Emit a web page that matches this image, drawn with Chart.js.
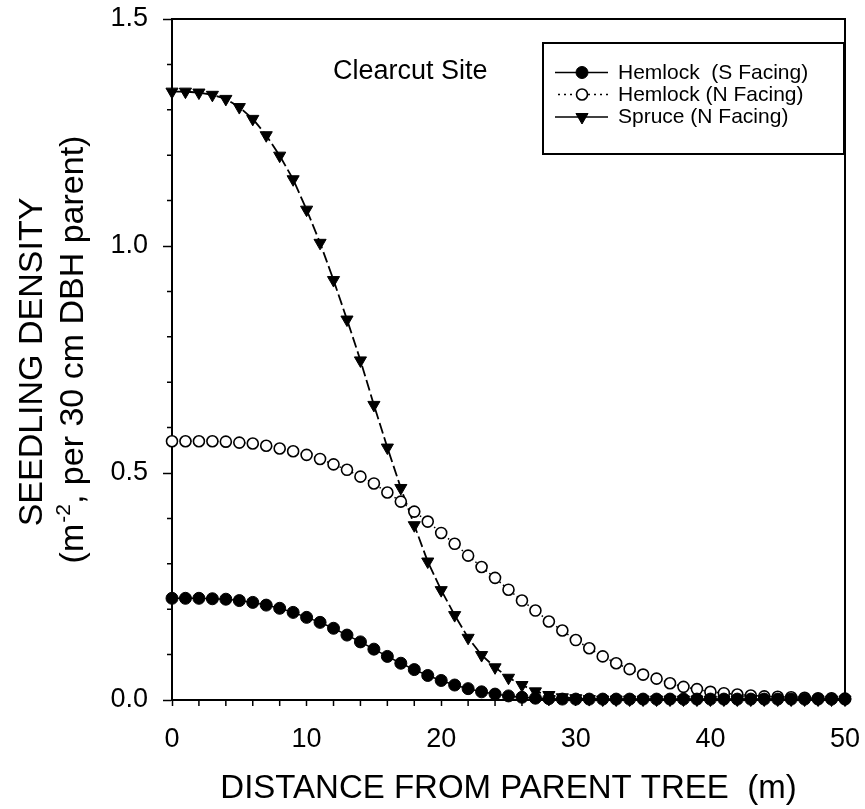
<!DOCTYPE html>
<html>
<head>
<meta charset="utf-8">
<script src="https://cdn.jsdelivr.net/npm/chart.js@4.4.1/dist/chart.umd.min.js"></script>
<style>
    html, body { margin: 0; padding: 0; background: #fff; }
    #wrap { width: 865px; height: 809px; }
</style>
</head>
<body>
<div id="wrap"><canvas id="seedlingChart" width="865" height="809"></canvas></div>
<script>
// distance from parent tree (m), one point per metre
const distance = [0, 1, 2, 3, 4, 5, 6, 7, 8, 9, 10, 11, 12, 13, 14, 15, 16, 17, 18, 19, 20,
    21, 22, 23, 24, 25, 26, 27, 28, 29, 30, 31, 32, 33, 34, 35, 36, 37, 38, 39, 40,
    41, 42, 43, 44, 45, 46, 47, 48, 49, 50];

// seedling density
const hemlockS = [0.224, 0.224, 0.224, 0.223, 0.222, 0.219, 0.215, 0.209, 0.202, 0.193, 0.182,
    0.171, 0.158, 0.143, 0.128, 0.112, 0.096, 0.081, 0.067, 0.054, 0.043,
    0.033, 0.025, 0.018, 0.013, 0.009, 0.006, 0.004, 0.003, 0.002, 0.002,
    0.002, 0.002, 0.002, 0.002, 0.002, 0.002, 0.002, 0.002, 0.002, 0.002,
    0.002, 0.002, 0.002, 0.002, 0.002, 0.002, 0.002, 0.002, 0.002, 0.002];
const hemlockN = [0.570, 0.570, 0.570, 0.570, 0.569, 0.567, 0.565, 0.560, 0.554, 0.548, 0.540,
    0.531, 0.519, 0.507, 0.492, 0.477, 0.457, 0.437, 0.415, 0.393, 0.368,
    0.344, 0.318, 0.293, 0.269, 0.243, 0.219, 0.197, 0.173, 0.153, 0.132,
    0.114, 0.096, 0.081, 0.068, 0.056, 0.047, 0.037, 0.029, 0.024, 0.018,
    0.015, 0.012, 0.010, 0.008, 0.007, 0.006, 0.005, 0.004, 0.004, 0.003];
const spruceN = [1.340, 1.340, 1.338, 1.333, 1.324, 1.306, 1.280, 1.244, 1.199, 1.147, 1.080,
    1.007, 0.925, 0.838, 0.748, 0.650, 0.556, 0.467, 0.385, 0.305, 0.242,
    0.187, 0.137, 0.099, 0.072, 0.049, 0.033, 0.019, 0.011, 0.006, 0.004,
    0.002, 0.001, 0.001, 0.001, 0.001, 0.001, 0.001, 0.001, 0.001, 0.001,
    0.001, 0.001, 0.001, 0.001, 0.001, 0.001, 0.001, 0.001, 0.001, 0.001];

const seriesLabels = ['Hemlock  (S Facing)', 'Hemlock (N Facing)', 'Spruce (N Facing)'];
const xMajorTicks = [0, 10, 20, 30, 40, 50];
const xMinorTicks = [2, 4, 6, 8, 12, 14, 16, 18, 22, 24, 26, 28, 32, 34, 36, 38, 42, 44, 46, 48];
const yMajorTicks = [0, 0.5, 1.0, 1.5];
const yMinorTicks = [0.1, 0.2, 0.3, 0.4, 0.6, 0.7, 0.8, 0.9, 1.1, 1.2, 1.3, 1.4];
const siteLabel = 'Clearcut Site';
const xTitle = 'DISTANCE FROM PARENT TREE  (m)';
const yTitle = ['SEEDLING DENSITY', '(m', '-2', ', per 30 cm DBH parent)'];

const FONT = '"Liberation Sans", Arial, Helvetica, sans-serif';

function toPoints(values) {
    return distance.map((d, i) => ({ x: d, y: values[i] }));
}

function drawMarker(ctx, style, x, y, r, fill) {
    ctx.beginPath();
    if (style === 'triangle') {
        // pointing down
        ctx.moveTo(x, y + r);
        ctx.lineTo(x - r * 0.866, y - r / 2);
        ctx.lineTo(x + r * 0.866, y - r / 2);
        ctx.closePath();
    } else {
        ctx.arc(x, y, r, 0, Math.PI * 2);
    }
    ctx.fillStyle = fill;
    ctx.fill();
    ctx.stroke();
}

const decorations = {
    id: 'decorations',
    beforeDatasetsDraw(chart) {
        const { ctx, chartArea: a, scales } = chart;
        ctx.save();
        ctx.strokeStyle = '#000';
        // top and right frame
        ctx.lineWidth = 2;
        ctx.beginPath();
        ctx.moveTo(a.left, a.top);
        ctx.lineTo(a.right, a.top);
        ctx.lineTo(a.right, a.bottom);
        ctx.stroke();
        // minor ticks
        ctx.lineWidth = 1.5;
        ctx.beginPath();
        xMinorTicks.forEach(v => {
            const px = scales.x.getPixelForValue(v);
            ctx.moveTo(px, a.bottom);
            ctx.lineTo(px, a.bottom + 6);
        });
        yMinorTicks.forEach(v => {
            const py = scales.y.getPixelForValue(v);
            ctx.moveTo(a.left, py);
            ctx.lineTo(a.left - 5, py);
        });
        ctx.stroke();
        ctx.restore();
    },
    afterDraw(chart) {
        const { ctx } = chart;
        ctx.save();
        ctx.fillStyle = '#000';
        ctx.textBaseline = 'alphabetic';

        // site label
        ctx.font = '27px ' + FONT;
        ctx.textAlign = 'left';
        ctx.fillText(siteLabel, 333, 78.5);

        // legend box
        ctx.strokeStyle = '#000';
        ctx.lineWidth = 2;
        ctx.fillStyle = '#fff';
        ctx.fillRect(543, 43, 301, 111);
        ctx.strokeRect(543, 43, 301, 111);

        const rows = [72.5, 94.5, 117];
        chart.data.datasets.forEach((ds, i) => {
            const y = rows[i];
            ctx.strokeStyle = '#000';
            ctx.lineWidth = 1.5;
            ctx.setLineDash(i === 1 ? [2, 4] : []);
            ctx.beginPath();
            ctx.moveTo(i === 1 ? 558 : 555, y);
            ctx.lineTo(608, y);
            ctx.stroke();
            ctx.setLineDash([]);
            ctx.lineWidth = ds.pointBorderWidth;
            drawMarker(ctx, ds.pointStyle, 582, y, ds.pointRadius, ds.pointBackgroundColor);
            ctx.fillStyle = '#000';
            ctx.font = '21px ' + FONT;
            ctx.fillText(ds.label, 618, y + 6);
        });

        // y axis title, two rotated lines
        ctx.fillStyle = '#000';
        ctx.save();
        ctx.font = '34px ' + FONT;
        ctx.translate(42, 362);
        ctx.rotate(-Math.PI / 2);
        ctx.textAlign = 'center';
        ctx.fillText(yTitle[0], 0, 0);
        ctx.restore();

        ctx.save();
        ctx.translate(83, 350);
        ctx.rotate(-Math.PI / 2);
        ctx.textAlign = 'left';
        const big = '34px ' + FONT, small = '21px ' + FONT;
        ctx.font = big;
        const w1 = ctx.measureText(yTitle[1]).width;
        const w3 = ctx.measureText(yTitle[3]).width;
        ctx.font = small;
        const w2 = ctx.measureText(yTitle[2]).width;
        let x0 = -(w1 + w2 + w3) / 2;
        ctx.font = big;
        ctx.fillText(yTitle[1], x0, 0);
        ctx.font = small;
        ctx.fillText(yTitle[2], x0 + w1 + 1, -13);
        ctx.font = big;
        ctx.fillText(yTitle[3], x0 + w1 + w2 + 1, 0);
        ctx.restore();

        ctx.restore();
    }
};

new Chart(document.getElementById('seedlingChart'), {
    type: 'line',
    data: {
        datasets: [{
            label: seriesLabels[0],
            data: toPoints(hemlockS),
            borderColor: '#000',
            borderWidth: 1.5,
            pointStyle: 'circle',
            pointRadius: 6,
            pointBorderWidth: 1,
            pointBorderColor: '#000',
            pointBackgroundColor: '#000',
            clip: false
        }, {
            label: seriesLabels[1],
            data: toPoints(hemlockN),
            borderColor: '#000',
            borderWidth: 1.5,
            borderDash: [1.5, 3],
            pointStyle: 'circle',
            pointRadius: 5.5,
            pointBorderWidth: 1.6,
            pointBorderColor: '#000',
            pointBackgroundColor: '#fff',
            clip: false
        }, {
            label: seriesLabels[2],
            data: toPoints(spruceN),
            borderColor: '#000',
            borderWidth: 1.8,
            borderDash: [11, 4],
            pointStyle: 'triangle',
            pointRotation: 180,
            pointRadius: 7,
            pointBorderWidth: 1,
            pointBorderColor: '#000',
            pointBackgroundColor: '#000',
            clip: false
        }]
    },
    options: {
        responsive: false,
        animation: false,
        layout: {
            padding: { top: 19, right: 20, left: 0, bottom: 0 }
        },
        plugins: {
            legend: { display: false },
            tooltip: { enabled: false }
        },
        scales: {
            x: {
                type: 'linear',
                min: 0,
                max: 50,
                afterBuildTicks: s => { s.ticks = xMajorTicks.map(v => ({ value: v })); },
                afterFit: s => {
                    s.height = 109;
                    s.paddingLeft = 0;
                    s.paddingRight = 0;
                },
                grid: { drawOnChartArea: false, tickLength: 6, tickColor: '#000', tickWidth: 1.5 },
                border: { display: true, color: '#000', width: 2 },
                ticks: {
                    color: '#000',
                    font: { family: FONT, size: 27 },
                    padding: 17,
                    maxRotation: 0,
                    autoSkip: false
                },
                title: {
                    display: true,
                    text: xTitle,
                    color: '#000',
                    font: { family: FONT, size: 33 },
                    padding: 0
                }
            },
            y: {
                type: 'linear',
                min: 0,
                max: 1.5,
                afterBuildTicks: s => { s.ticks = yMajorTicks.map(v => ({ value: v })); },
                afterFit: s => {
                    s.width = 172;
                    s.paddingTop = 0;
                    s.paddingBottom = 0;
                },
                grid: { drawOnChartArea: false, tickLength: 9, tickColor: '#000', tickWidth: 1.5 },
                border: { display: true, color: '#000', width: 2 },
                ticks: {
                    color: '#000',
                    font: { family: FONT, size: 27 },
                    padding: 15,
                    callback: v => v.toFixed(1)
                }
            }
        }
    },
    plugins: [decorations]
});
</script>
</body>
</html>
